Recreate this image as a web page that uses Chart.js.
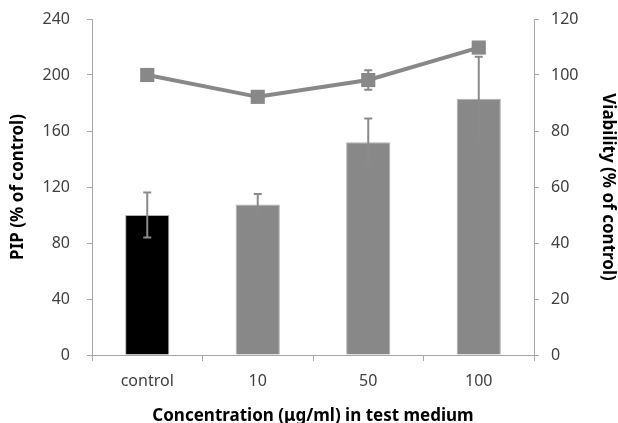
<!DOCTYPE html>
<html>
<head>
<meta charset="utf-8">
<script src="https://cdn.jsdelivr.net/npm/chart.js@4.4.1/dist/chart.umd.min.js"></script>
<style>
  html, body { margin: 0; padding: 0; background: #fff; }
  #wrap { width: 618px; height: 423px; }
</style>
</head>
<body>
<div id="wrap"><canvas id="chart" width="618" height="423"></canvas></div>
<script>
// data
const categories = ["control", "10", "50", "100"]
const pipValues = [100, 107.5, 152, 183]
const pipErrors = [16, 7.5, 17, 30]
const viabilityValues = [100, 92.2, 98.2, 109.8]
const viabilityErrors = [0, 0, 3.5, 0]
const barColors = ["#000000", "#888888", "#888888", "#888888"]

const axisColor = "#a6a6a6"
const tickFont = { family: "Noto Sans", size: 16 }
const titleFont = { family: "Noto Sans", size: 17, weight: "bold" }

// draws the error bars for each dataset
const errorBars = {
    id: "errorBars",
    afterDatasetsDraw(chart) {
        let ctx = chart.ctx
        chart.data.datasets.forEach((ds, i) => {
            let meta = chart.getDatasetMeta(i)
            let scale = chart.scales[meta.yAxisID]
            ctx.save()
            ctx.strokeStyle = ds.errColor
            ctx.lineWidth = 2
            meta.data.forEach((el, j) => {
                let err = ds.errors[j]
                if (!err) return
                let x = el.x
                let top = scale.getPixelForValue(ds.data[j] + err)
                let bottom = scale.getPixelForValue(ds.data[j] - err)
                ctx.beginPath()
                ctx.moveTo(x, top)
                ctx.lineTo(x, bottom)
                ctx.moveTo(x - 4, top)
                ctx.lineTo(x + 4, top)
                ctx.moveTo(x - 4, bottom)
                ctx.lineTo(x + 4, bottom)
                ctx.stroke()
            })
            ctx.restore()
        })
    }
}

new Chart(document.getElementById("chart").getContext("2d"), {
    type: "bar",
    data: {
        labels: categories,
        datasets: [
            {
                type: "line",
                label: "Viability",
                data: viabilityValues,
                errors: viabilityErrors,
                errColor: "#888888",
                yAxisID: "y1",
                borderColor: "#888888",
                backgroundColor: "#888888",
                borderWidth: 4,
                pointStyle: "rect",
                pointRadius: 10,
                pointBorderWidth: 0,
                order: 0
            },
            {
                label: "PIP",
                data: pipValues,
                errors: pipErrors,
                errColor: "#8a8a8a",
                yAxisID: "y",
                backgroundColor: barColors,
                borderColor: "#b0b0b0",
                borderWidth: 1,
                barPercentage: 0.4,
                categoryPercentage: 1,
                order: 1
            }
        ]
    },
    options: {
        responsive: false,
        animation: false,
        layout: { autoPadding: false, padding: { top: 19, left: 0, right: 0, bottom: 0 } },
        plugins: { legend: { display: false }, tooltip: { enabled: false } },
        scales: {
            x: {
                offset: true,
                grid: { offset: true, drawOnChartArea: false, color: axisColor, tickLength: 6 },
                border: { color: axisColor, width: 1 },
                ticks: { color: "#404040", font: tickFont, padding: 11 },
                title: { display: true, text: "Concentration (μg/ml) in test medium", color: "#000", font: titleFont, padding: { top: 0, bottom: -3 } },
                afterFit(s) { s.height = 68 }
            },
            y: {
                position: "left",
                min: 0, max: 240,
                ticks: { stepSize: 40, color: "#404040", font: tickFont, padding: 17 },
                grid: { drawOnChartArea: false, color: axisColor, tickLength: 5 },
                border: { color: axisColor, width: 1 },
                title: { display: true, text: "PIP (% of control)", color: "#000", font: titleFont, padding: { top: 8, bottom: 0 } },
                afterFit(s) {
                    s.width = 92
                    s.paddingTop = 0
                    s.paddingBottom = 0
                }
            },
            y1: {
                position: "right",
                min: 0, max: 120,
                ticks: { stepSize: 20, color: "#404040", font: tickFont, padding: 12 },
                grid: { drawOnChartArea: false, color: axisColor, tickLength: 5 },
                border: { color: axisColor, width: 1 },
                title: { display: true, text: "Viability (% of control)", color: "#000", font: titleFont, padding: { top: 0, bottom: 0 } },
                afterFit(s) {
                    s.width = 84
                    s.paddingTop = 0
                    s.paddingBottom = 0
                }
            }
        }
    },
    plugins: [errorBars]
})
</script>
</body>
</html>
